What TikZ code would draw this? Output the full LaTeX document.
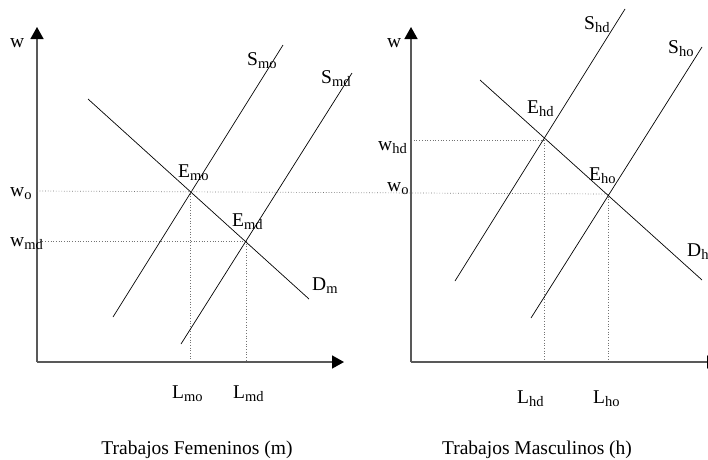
\documentclass[tikz,border=0pt]{standalone}
\usepackage{fontspec}
\setmainfont{Liberation Serif}
\usetikzlibrary{arrows.meta,positioning}

\newcommand{\lsub}[2]{#1\raisebox{-3pt}{\fontsize{14.5}{14.5}\selectfont #2}}

\begin{document}
\begin{tikzpicture}[
  x=1pt, y=-1pt,
  axis/.style={draw=black!65, line width=1.6pt, -{Triangle[width=13pt,length=12pt,black]}},
  curve/.style={draw, line width=0.7pt},
  guide/.style={draw=black!55, dotted, line width=0.7pt},
  every node/.style={font=\fontsize{19.5}{23}\selectfont, inner sep=0pt, anchor=base west}
]
\useasboundingbox (0,0) rectangle (708,459);

% --- Trabajos Femeninos
\coordinate (Om) at (37,362);
\coordinate (Ym) at (37,27);
\coordinate (Xm) at (344,362);
\coordinate (Emo) at (190,191);
\coordinate (Emd) at (246,241);
\coordinate (wom) at (37,191);
\coordinate (wmd) at (37,241);
\coordinate (Lmo) at (190,362);
\coordinate (Lmd) at (246,362);

\draw[guide] (wmd) -- (Emd);
\draw[guide] (Emo) -- (Lmo);
\draw[guide] (Emd) -- (Lmd);

\draw[axis] (Om) -- (Ym);
\draw[axis] (Om) -- (Xm);

\draw[curve] (113,317) coordinate (Smo1) -- (283,45) coordinate (Smo2);
\draw[curve] (181,344) coordinate (Smd1) -- (352,73) coordinate (Smd2);
\draw[curve] (88,99) coordinate (Dm1) -- (309,299) coordinate (Dm2);

\node (w-m) at (10,47) {w};
\node (wo-m) at (10,196) {\lsub{w}{o}};
\node (wmd-m) at (10,246) {\lsub{w}{md}};
\node (Smo-lab) at (247,65) {\lsub{S}{mo}};
\node (Smd-lab) at (321,83) {\lsub{S}{md}};
\node (Emo-lab) at (178,177) {\lsub{E}{mo}};
\node (Emd-lab) at (232,226) {\lsub{E}{md}};
\node (Dm-lab) at (312,290) {\lsub{D}{m}};
\node (Lmo-lab) at (172,398) {\lsub{L}{mo}};
\node (Lmd-lab) at (233,398) {\lsub{L}{md}};
\node[anchor=base] (title-m) at (197,454) {Trabajos Femeninos (m)};

% --- Trabajos Masculinos
\coordinate (Oh) at (411,362);
\coordinate (Yh) at (411,27);
\coordinate (Xh) at (719,362);
\coordinate (Ehd) at (544,140);
\coordinate (Eho) at (608,194);
\coordinate (whd) at (411,140);
\coordinate (Lhd) at (544,362);
\coordinate (Lho) at (608,362);

\draw[guide] (wom) -- (Eho);
\draw[guide] (whd) -- (Ehd);
\draw[guide] (Ehd) -- (Lhd);
\draw[guide] (Eho) -- (Lho);

\draw[axis] (Oh) -- (Yh);
\draw[axis] (Oh) -- (Xh);

\draw[curve] (455,281) coordinate (Shd1) -- (625,9) coordinate (Shd2);
\draw[curve] (531,318) coordinate (Sho1) -- (702,47) coordinate (Sho2);
\draw[curve] (480,80) coordinate (Dh1) -- (702,280) coordinate (Dh2);

\node (w-h) at (387,47) {w};
\node (whd-h) at (378,150) {\lsub{w}{hd}};
\node (wo-h) at (387,191) {\lsub{w}{o}};
\node (Shd-lab) at (584,29) {\lsub{S}{hd}};
\node (Sho-lab) at (668,53) {\lsub{S}{ho}};
\node (Ehd-lab) at (527,113) {\lsub{E}{hd}};
\node (Eho-lab) at (589,180) {\lsub{E}{ho}};
\node (Dh-lab) at (687,256) {\lsub{D}{h}};
\node (Lhd-lab) at (517,403) {\lsub{L}{hd}};
\node (Lho-lab) at (593,403) {\lsub{L}{ho}};
\node[anchor=base] (title-h) at (537,454) {Trabajos Masculinos (h)};
\end{tikzpicture}
\end{document}
